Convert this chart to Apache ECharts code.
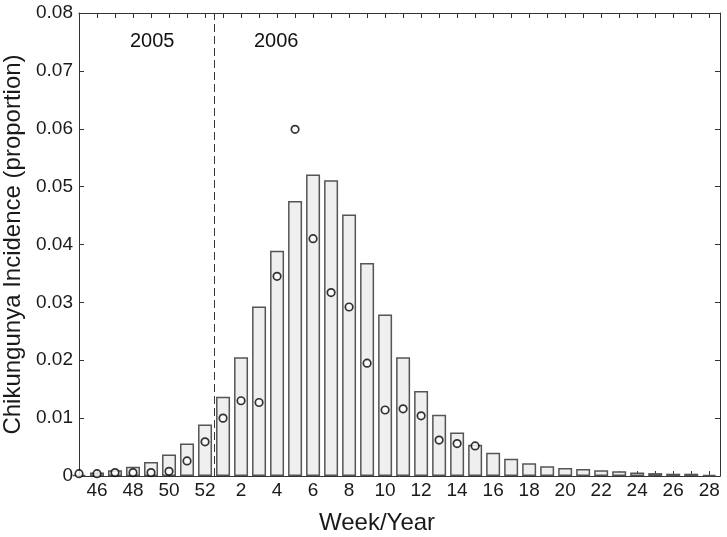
<!DOCTYPE html>
<html>
<head>
<meta charset="utf-8">
<script src="https://cdn.jsdelivr.net/npm/echarts@6/dist/echarts.min.js"></script>
<style>
    html, body { margin: 0; padding: 0; background: #fff; }
    #chart { width: 727px; height: 537px; }
</style>
</head>
<body>
<div id="chart"></div>
<script>
// weeks 45-52 of 2005, then 1-28 of 2006
const weeks = [45, 46, 47, 48, 49, 50, 51, 52,
    1, 2, 3, 4, 5, 6, 7, 8, 9, 10, 11, 12, 13, 14, 15, 16, 17, 18, 19, 20,
    21, 22, 23, 24, 25, 26, 27, 28];
// bars (model incidence)
const incidence = [0.0002, 0.0006, 0.0010, 0.0016, 0.0024, 0.0037, 0.0056, 0.0089,
    0.0137, 0.0205, 0.0293, 0.0389, 0.0475, 0.0521, 0.0511, 0.0452, 0.0368, 0.0279,
    0.0205, 0.0147, 0.0106, 0.0075, 0.0054, 0.0040, 0.0030, 0.0022, 0.0017, 0.0014,
    0.0012, 0.0010, 0.0008, 0.0006, 0.0005, 0.0004, 0.0004, 0.0002];
// circles (observed), weeks 45 .. 15
const observed = [0.0004, 0.0004, 0.0006, 0.0006, 0.0006, 0.0008, 0.0026, 0.0059,
    0.0100, 0.0130, 0.0127, 0.0345, 0.0599, 0.0410, 0.0317, 0.0292, 0.0195, 0.0114,
    0.0116, 0.0104, 0.0062, 0.0056, 0.0052];
const yearLabels = ["2005", "2006"];
const yearBoundary = 7.5; // between week 52 and week 1

const font = "Liberation Sans, Arial, sans-serif";
const axisColor = "#333";

let chart = echarts.init(document.getElementById("chart"));

function weekLabel(v) {
    let i = Math.round(v);
    if (Math.abs(v - i) > 1e-6 || i % 2 === 0 || i >= weeks.length) {
        return "";
    }
    return String(weeks[i]);
}

function frameAxis(extra) {
    return Object.assign({
        axisLine: {show: true, onZero: false, lineStyle: {color: axisColor, width: 1}},
        axisTick: {show: true, inside: true, length: 5, lineStyle: {color: axisColor}},
        splitLine: {show: false},
    }, extra);
}

let option = {
    animation: false,
    backgroundColor: "#fff",
    grid: {
        left: 79,
        right: 7,
        top: 13,
        bottom: 61,
        containLabel: false,
        outerBoundsMode: "none",
    },
    xAxis: [
        frameAxis({
            type: "value",
            min: 0,
            max: 35.6,
            interval: 1,
            axisLabel: {
                formatter: weekLabel,
                color: "#1a1a1a",
                fontSize: 19,
                fontFamily: font,
                margin: 5,
                showMaxLabel: false,
            },
        }),
        frameAxis({
            type: "value",
            position: "top",
            min: 0,
            max: 35.6,
            interval: 1,
            axisLabel: {show: false},
        })
    ],
    yAxis: [
        frameAxis({
            type: "value",
            min: 0,
            max: 0.08,
            interval: 0.01,
            name: "Chikungunya Incidence (proportion)",
            nameLocation: "middle",
            nameGap: 50,
            nameTextStyle: {fontSize: 24, fontFamily: font, color: "#1a1a1a"},
            axisLabel: {
                formatter: v => v === 0 ? "0" : v.toFixed(2),
                color: "#1a1a1a",
                fontSize: 19,
                fontFamily: font,
                margin: 6,
            },
        }),
        frameAxis({
            type: "value",
            position: "right",
            min: 0,
            max: 0.08,
            interval: 0.01,
            axisLabel: {show: false},
        })
    ],
    series: [
        {
            name: "model",
            type: "bar",
            data: incidence.map((v, i) => [i, v]),
            barWidth: 14,
            itemStyle: {
                color: "#efefef",
                borderColor: "#555",
                borderWidth: 1.5,
            },
            markLine: {
                silent: true,
                symbol: "none",
                label: {show: false},
                lineStyle: {color: "#333", width: 1, type: [8, 4]},
                data: [{xAxis: yearBoundary}],
            },
        },
        {
            name: "observed",
            type: "scatter",
            data: observed.map((v, i) => [i, v]),
            symbol: "circle",
            symbolSize: 7.5,
            itemStyle: {
                color: "#fff",
                borderColor: "#000",
                borderWidth: 1.7,
            },
            z: 3,
        }
    ],
    graphic: [
        {
            type: "text",
            left: 130,
            top: 31,
            style: {text: yearLabels[0], fontSize: 20, fontFamily: font, fill: "#111"},
        },
        {
            type: "text",
            left: 254,
            top: 31,
            style: {text: yearLabels[1], fontSize: 20, fontFamily: font, fill: "#111"},
        },
        {
            type: "text",
            left: 319,
            top: 511,
            style: {text: "Week/Year", fontSize: 24, fontFamily: font, fill: "#1a1a1a"},
        }
    ],
};
chart.setOption(option);
</script>
</body>
</html>
